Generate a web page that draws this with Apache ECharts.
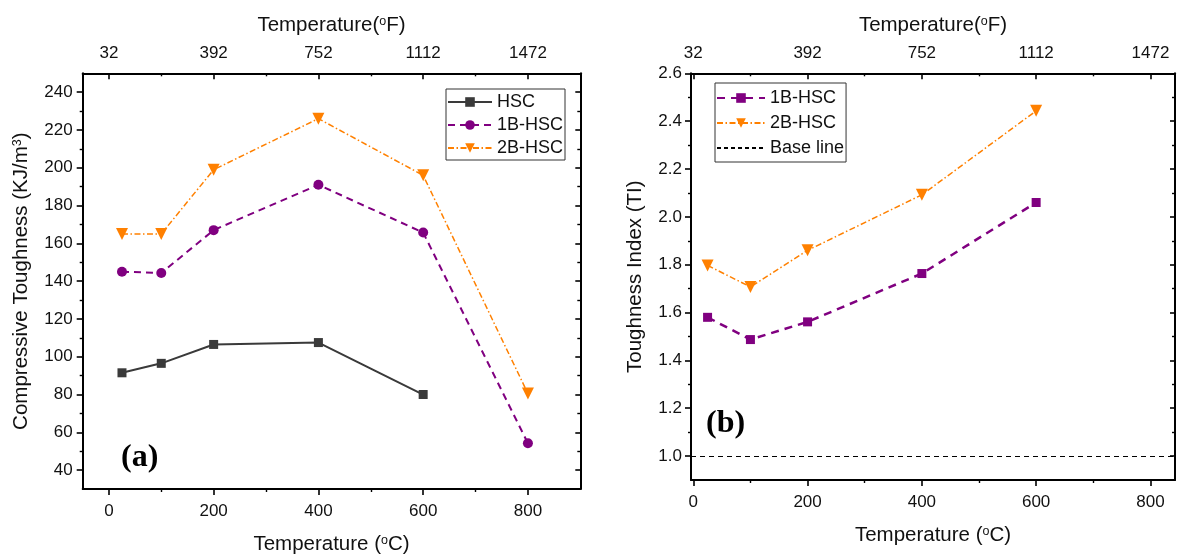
<!DOCTYPE html>
<html>
<head>
<meta charset="utf-8">
<script src="https://cdn.jsdelivr.net/npm/echarts@6/dist/echarts.min.js"></script>
<style>
  html, body { margin: 0; padding: 0; background: #fff; }
  #chart { width: 1179px; height: 555px; }
</style>
</head>
<body>
<div id="chart"></div>
<script>
// (a) compressive toughness, KJ/m3, against exposure temperature (°C)
const tempA = [25, 100, 200, 400, 600, 800];
const hscToughness = [91.5, 96.5, 106.5, 107.5, 80];
const b1Toughness = [145, 144.3, 167, 191, 165.7, 54.2];
const b2Toughness = [165, 165, 199, 226, 196, 80.5];

// (b) toughness index against exposure temperature (°C)
const tempB = [25, 100, 200, 400, 600];
const b1Index = [1.58, 1.487, 1.561, 1.763, 2.06];
const b2Index = [1.797, 1.707, 1.86, 2.092, 2.443];
const baseLine = 1.0;

// tick values and labels
const celsiusTicks = [0, 200, 400, 600, 800];
const celsiusMinor = [100, 300, 500, 700];
const fahrenheitLabels = ['32', '392', '752', '1112', '1472'];
const toughTicks = [40, 60, 80, 100, 120, 140, 160, 180, 200, 220, 240];
const toughMinor = [50, 70, 90, 110, 130, 150, 170, 190, 210, 230];
const indexTicks = [1.0, 1.2, 1.4, 1.6, 1.8, 2.0, 2.2, 2.4, 2.6];
const indexMinor = [1.1, 1.3, 1.5, 1.7, 1.9, 2.1, 2.3, 2.5];

const FONT = 'Liberation Sans';
const INK = '#111';
const GRAY = '#3a3a3a';
const PURPLE = '#800080';
const ORANGE = '#FF8000';

const pairs = (xs, ys) => ys.map((y, i) => [xs[i], y]);

const nameStyle = {
  fontFamily: FONT, fontSize: 20.5, color: INK,
  rich: { sup: { fontFamily: FONT, fontSize: 12.5, color: INK, verticalAlign: 'top' } }
};
const labelStyle = { fontFamily: FONT, fontSize: 17, color: INK };

function axisBase(gridIndex, position, min, max) {
  return {
    type: 'value', gridIndex, position, min, max,
    axisLine: { show: true, onZero: false, lineStyle: { color: '#000', width: 2 } },
    splitLine: { show: false }
  };
}

// one labelled axis plus a tick-only companion for the minor ticks
function axisPair(gridIndex, position, min, max, major, minor, opts) {
  const main = Object.assign(axisBase(gridIndex, position, min, max), {
    axisTick: { show: true, inside: opts.inside, length: opts.majorLen, customValues: major,
      lineStyle: { color: '#000', width: 1.6 } },
    axisLabel: opts.labels
      ? Object.assign({ show: true, customValues: major, margin: opts.margin,
          formatter: opts.formatter }, labelStyle)
      : { show: false }
  });
  if (opts.name) {
    main.name = opts.name;
    main.nameLocation = 'middle';
    main.nameGap = opts.nameGap;
    main.nameTextStyle = nameStyle;
    if (opts.nameRotate !== undefined) main.nameRotate = opts.nameRotate;
  }
  const minorAxis = Object.assign(axisBase(gridIndex, position, min, max), {
    axisLine: { show: false, onZero: false },
    axisTick: { show: true, inside: opts.inside, length: opts.minorLen, customValues: minor,
      lineStyle: { color: '#000', width: 1.4 } },
    axisLabel: { show: false }
  });
  return [main, minorAxis];
}

const fmtF = (v) => fahrenheitLabels[celsiusTicks.indexOf(Math.round(v))];

function xAxesFor(gridIndex, min, max) {
  return [
    ...axisPair(gridIndex, 'bottom', min, max, celsiusTicks, celsiusMinor, {
      inside: false, majorLen: 6, minorLen: 3, labels: true, margin: 14,
      name: 'Temperature ({sup|o}C)', nameGap: 45
    }),
    ...axisPair(gridIndex, 'top', min, max, celsiusTicks, celsiusMinor, {
      inside: true, majorLen: 6, minorLen: 3, labels: true, margin: 11, formatter: fmtF,
      name: 'Temperature({sup|o}F)', nameGap: 37
    })
  ];
}

const xAxes = [...xAxesFor(0, -50, 900), ...xAxesFor(1, -4, 843)];

const yAxes = [
  ...axisPair(0, 'left', 30, 250, toughTicks, toughMinor, {
    inside: false, majorLen: 6, minorLen: 3, labels: true, margin: 10,
    name: 'Compressive Toughness (KJ/m{sup|3})', nameGap: 51, nameRotate: 90
  }),
  ...axisPair(0, 'right', 30, 250, toughTicks, toughMinor, {
    inside: true, majorLen: 5, minorLen: 3, labels: false
  }),
  ...axisPair(1, 'left', 0.9, 2.6, indexTicks, indexMinor, {
    inside: false, majorLen: 6, minorLen: 3, labels: true, margin: 9,
    formatter: (v) => v.toFixed(1),
    name: 'Toughness Index (TI)', nameGap: 45, nameRotate: 90
  }),
  ...axisPair(1, 'right', 0.9, 2.6, indexTicks, indexMinor, {
    inside: true, majorLen: 5, minorLen: 3, labels: false
  })
];

// names of the (b) series carry a prefix so each legend finds its own marker
const TI = 'TI ';

const series = [
  {
    name: 'HSC', type: 'line', xAxisIndex: 0, yAxisIndex: 0,
    data: pairs(tempA, hscToughness),
    symbol: 'rect', symbolSize: 9,
    itemStyle: { color: GRAY },
    lineStyle: { color: GRAY, width: 2, type: 'solid' }
  },
  {
    name: '1B-HSC', type: 'line', xAxisIndex: 0, yAxisIndex: 0,
    data: pairs(tempA, b1Toughness),
    symbol: 'circle', symbolSize: 10,
    itemStyle: { color: PURPLE },
    lineStyle: { color: PURPLE, width: 2, type: [7, 5] }
  },
  {
    name: '2B-HSC', type: 'line', xAxisIndex: 0, yAxisIndex: 0,
    data: pairs(tempA, b2Toughness),
    symbol: 'triangle', symbolRotate: 180, symbolSize: 12,
    itemStyle: { color: ORANGE },
    lineStyle: { color: ORANGE, width: 1.5, type: [6, 2.5, 1.5, 2.5] }
  },
  {
    name: TI + '1B-HSC', type: 'line', xAxisIndex: 4, yAxisIndex: 4,
    data: pairs(tempB, b1Index),
    symbol: 'rect', symbolSize: 9,
    itemStyle: { color: PURPLE },
    lineStyle: { color: PURPLE, width: 2.5, type: [8, 6] }
  },
  {
    name: TI + '2B-HSC', type: 'line', xAxisIndex: 4, yAxisIndex: 4,
    data: pairs(tempB, b2Index),
    symbol: 'triangle', symbolRotate: 180, symbolSize: 12,
    itemStyle: { color: ORANGE },
    lineStyle: { color: ORANGE, width: 1.5, type: [6, 2.5, 1.5, 2.5] }
  },
  {
    // reference level; its legend entry shows only the dashed line
    name: TI + 'Base line', type: 'line', xAxisIndex: 4, yAxisIndex: 4,
    data: [], symbol: 'none',
    itemStyle: { color: '#000', opacity: 0 },
    lineStyle: { color: '#000', width: 1, type: [4, 3] },
    markLine: {
      silent: true, symbol: 'none', label: { show: false },
      lineStyle: { color: '#000', width: 1, type: [5, 4], opacity: 1 },
      data: [{ yAxis: baseLine }]
    }
  }
];

const legendCommon = {
  orient: 'vertical', selectedMode: false,
  borderColor: '#333', borderWidth: 1,
  itemHeight: 12, itemGap: 5,
  textStyle: { fontFamily: FONT, fontSize: 18, color: INK },
  formatter: (n) => n.startsWith(TI) ? n.slice(TI.length) : n
};

const option = {
  animation: false,
  backgroundColor: '#fff',
  grid: [
    { left: 82.7, top: 73.3, width: 497.6, height: 415.7, outerBoundsMode: 'none', containLabel: false },
    { left: 691, top: 73.3, width: 484, height: 406.7, outerBoundsMode: 'none', containLabel: false }
  ],
  xAxis: xAxes,
  yAxis: yAxes,
  legend: [
    Object.assign({}, legendCommon, {
      left: 446, top: 89, itemWidth: 44, padding: [4, 2, 3, 1],
      data: ['HSC', '1B-HSC', '2B-HSC']
    }),
    Object.assign({}, legendCommon, {
      left: 715, top: 83, itemWidth: 48, itemGap: 7, padding: [6, 2, 5, 1],
      data: [TI + '1B-HSC', TI + '2B-HSC', TI + 'Base line']
    })
  ],
  graphic: [
    { type: 'text', left: 121, top: 442,
      style: { text: '(a)', font: 'bold 32px "Liberation Serif"', fill: '#000' } },
    { type: 'text', left: 706, top: 408,
      style: { text: '(b)', font: 'bold 32px "Liberation Serif"', fill: '#000' } }
  ],
  series
};

const chart = echarts.init(document.getElementById('chart'), null, { renderer: 'canvas' });
chart.setOption(option);
</script>
</body>
</html>
